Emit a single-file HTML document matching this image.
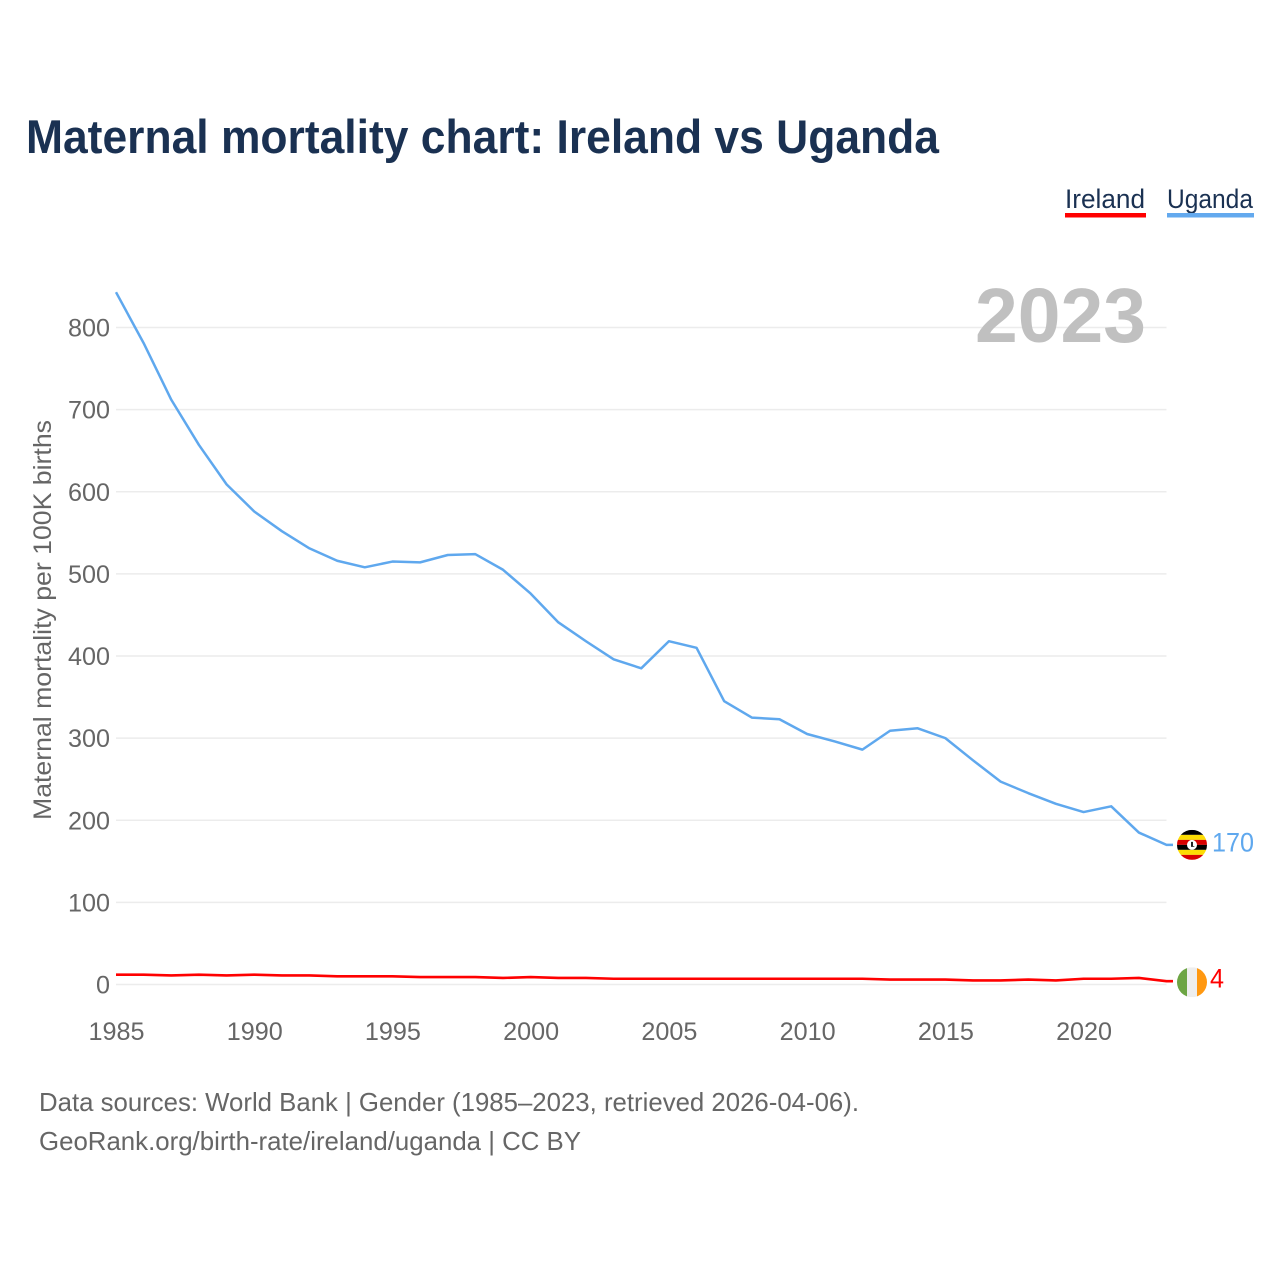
<!DOCTYPE html>
<html>
<head>
<meta charset="utf-8">
<title>Maternal mortality chart: Ireland vs Uganda</title>
<style>
html,body{margin:0;padding:0;background:#fff;}
svg{display:block;font-family:"Liberation Sans",sans-serif;}
</style>
</head>
<body>
<svg id="chart" xmlns="http://www.w3.org/2000/svg" width="1280" height="1280" viewBox="0 0 1280 1280">
  <defs>
    <clipPath id="clip-ug"><circle cx="0" cy="0" r="15"></circle></clipPath>
    <clipPath id="clip-ie"><circle cx="0" cy="0" r="15"></circle></clipPath>
  </defs>
  <rect x="0" y="0" width="1280" height="1280" fill="#fff"></rect>
  <text x="26" y="153" font-size="47" font-weight="700" fill="#1a3152" textLength="913" lengthAdjust="spacingAndGlyphs">Maternal mortality chart: Ireland vs Uganda</text>

  <text x="1065" y="208" font-size="27" fill="#1a3152" textLength="80" lengthAdjust="spacingAndGlyphs">Ireland</text>
  <rect x="1065" y="213" width="81" height="4.5" fill="#ff0000"></rect>
  <text x="1167" y="208" font-size="27" fill="#1a3152" textLength="86" lengthAdjust="spacingAndGlyphs">Uganda</text>
  <rect x="1167" y="213" width="87" height="4.5" fill="#63a9ee"></rect>

  <g id="grid"></g>
  <g id="yticks"></g>
  <g id="xticks"></g>

  <text x="0" y="0" transform="translate(51,820) rotate(-90)" font-size="25" fill="#666666" textLength="400" lengthAdjust="spacingAndGlyphs">Maternal mortality per 100K births</text>

  <text x="1146" y="342" text-anchor="end" font-size="77" font-weight="700" fill="#c0c0c0" textLength="171" lengthAdjust="spacingAndGlyphs">2023</text>

  <g id="series"></g>

  <g id="flag-ug">
    <g clip-path="url(#clip-ug)">
      <rect x="-15" y="-15" width="30" height="5" fill="#000"></rect>
      <rect x="-15" y="-10" width="30" height="5" fill="#fcdc04"></rect>
      <rect x="-15" y="-5" width="30" height="5" fill="#d90000"></rect>
      <rect x="-15" y="0" width="30" height="5" fill="#000"></rect>
      <rect x="-15" y="5" width="30" height="5" fill="#fcdc04"></rect>
      <rect x="-15" y="10" width="30" height="5" fill="#d90000"></rect>
      <circle cx="0" cy="0" r="5" fill="#fff"></circle>
      <path d="M-1 -3 L1 -3 L1 1 L3 2 L-1 2 Z" fill="#222"></path>
    </g>
  </g>
  <g id="flag-ie">
    <g clip-path="url(#clip-ie)">
      <rect x="-15" y="-15" width="10" height="30" fill="#6da544"></rect>
      <rect x="-5" y="-15" width="10" height="30" fill="#eeeeee"></rect>
      <rect x="5" y="-15" width="10" height="30" fill="#ff9811"></rect>
    </g>
  </g>
  <g id="end-labels"></g>

  <text x="39" y="1111" font-size="26" fill="#666666" textLength="820" lengthAdjust="spacingAndGlyphs">Data sources: World Bank | Gender (1985–2023, retrieved 2026-04-06).</text>
  <text x="39" y="1150" font-size="26" fill="#666666" textLength="542" lengthAdjust="spacingAndGlyphs">GeoRank.org/birth-rate/ireland/uganda | CC BY</text>
</svg>
<script>
const years = [1985,1986,1987,1988,1989,1990,1991,1992,1993,1994,1995,1996,1997,1998,1999,2000,2001,2002,2003,2004,2005,2006,2007,2008,2009,2010,2011,2012,2013,2014,2015,2016,2017,2018,2019,2020,2021,2022,2023];
const ugandaValues = [843,781,712,657,609,576,552,531,516,508,515,514,523,524,505,476,441,418,396,385,418,410,345,325,323,305,296,286,309,312,300,273,247,233,220,210,217,185,170];
const irelandValues = [12,12,11,12,11,12,11,11,10,10,10,9,9,9,8,9,8,8,7,7,7,7,7,7,7,7,7,7,6,6,6,5,5,6,5,7,7,8,4];
const yTickValues = [0,100,200,300,400,500,600,700,800];
const xTickValues = [1985,1990,1995,2000,2005,2010,2015,2020];

const NS = 'http://www.w3.org/2000/svg';
const xScale = function (year) { return 116 + (year - 1985) * (1166.5 - 116) / (2023 - 1985); };
const yScale = function (value) { return 984.5 - value * 0.82125; };

function make(tag, attrs, parent, text) {
  const el = document.createElementNS(NS, tag);
  Object.keys(attrs).forEach(function (k) { el.setAttribute(k, attrs[k]); });
  if (text !== undefined) el.textContent = text;
  parent.appendChild(el);
  return el;
}

const gridG = document.getElementById('grid');
const yG = document.getElementById('yticks');
const xG = document.getElementById('xticks');
const seriesG = document.getElementById('series');
const endG = document.getElementById('end-labels');

yTickValues.forEach(function (v) {
  const line = make('line', {x1: 116, x2: 1166.5, y1: yScale(v), y2: yScale(v), stroke: '#ececec', 'stroke-width': 1.5}, gridG);
  
  
  const s = String(v);
  const label = make('text', {x: 110, y: yScale(v) + 9, 'text-anchor': 'end', 'font-size': 25, fill: '#666666', textLength: s.length * 14, lengthAdjust: 'spacingAndGlyphs'}, yG, s);
  
  
});

xTickValues.forEach(function (v) {
  const label = make('text', {x: xScale(v) + 0.5, y: 1040, 'text-anchor': 'middle', 'font-size': 25, fill: '#666666', textLength: 56, lengthAdjust: 'spacingAndGlyphs'}, xG, String(v));
  
  
});

function drawSeries(values, color, name, width) {
  const pts = values.map(function (v, i) { return xScale(years[i]).toFixed(2) + ',' + yScale(v).toFixed(2); });
  const last = values[values.length - 1];
  pts.push('1173,' + yScale(last).toFixed(2));
  const line = make('polyline', {points: pts.join(' '), fill: 'none', stroke: color, 'stroke-width': width, 'stroke-linejoin': 'round'}, seriesG);
  
  
}
drawSeries(irelandValues, '#ff0000', 'ireland', 2.6);
drawSeries(ugandaValues, '#5fa8ee', 'uganda', 2.5);

const lastUg = ugandaValues[ugandaValues.length - 1];
const lastIe = irelandValues[irelandValues.length - 1];
document.getElementById('flag-ug').setAttribute('transform', 'translate(1192,' + yScale(lastUg) + ')');
document.getElementById('flag-ie').setAttribute('transform', 'translate(1192,' + (yScale(lastIe) + 1) + ')');

const ugLabel = make('text', {x: 1212, y: yScale(lastUg) + 6.5, 'font-size': 26.5, fill: '#5fa8ee', textLength: String(lastUg).length * 14, lengthAdjust: 'spacingAndGlyphs'}, endG, String(lastUg));


const ieLabel = make('text', {x: 1210, y: yScale(lastIe) + 6.5, 'font-size': 26.5, fill: '#ff0000', textLength: String(lastIe).length * 14, lengthAdjust: 'spacingAndGlyphs'}, endG, String(lastIe));


</script>
</body>
</html>
